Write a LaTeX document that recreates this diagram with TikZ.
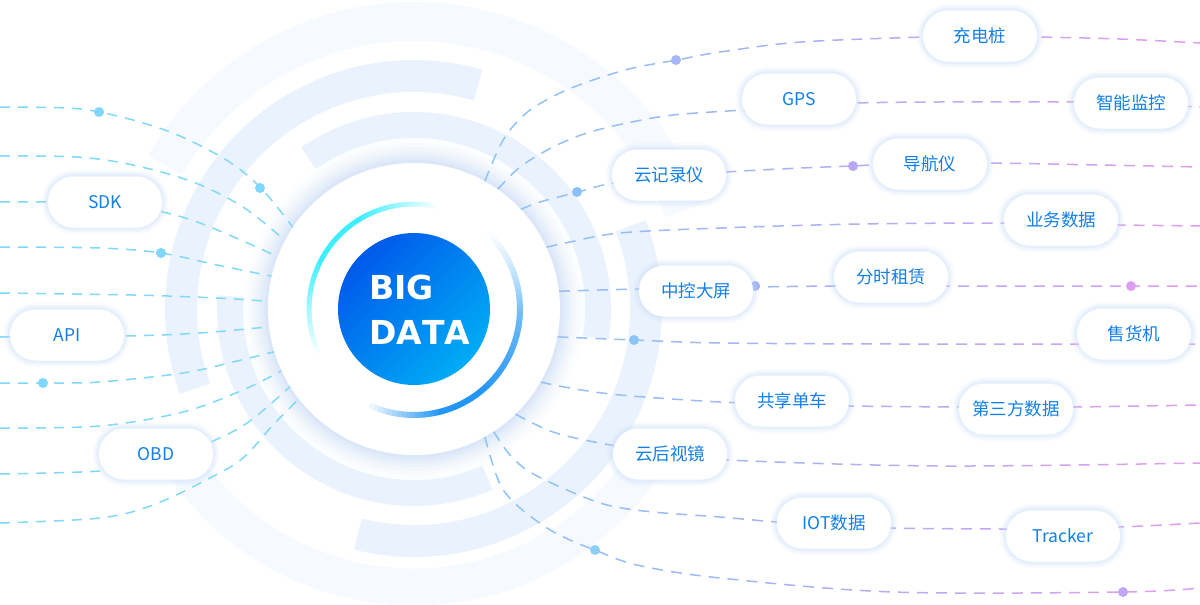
\documentclass[tikz,border=0pt]{standalone}
\usepackage{fontspec}
\newfontfamily\cjkf{Noto Sans CJK SC}
\newfontfamily\dvs{DejaVu Sans}[Kerning=Off]
\usetikzlibrary{calc}
\definecolor{bandc}{RGB}{234,243,253}
\definecolor{faintc}{RGB}{246,250,255}
\definecolor{glowc}{RGB}{190,212,248}
\definecolor{pillglow}{RGB}{200,220,250}
\definecolor{lline}{RGB}{128,216,250}
\definecolor{ldotc}{RGB}{128,214,250}
\definecolor{rc1}{RGB}{140,198,248}
\definecolor{rc2}{RGB}{168,178,245}
\definecolor{rc3}{RGB}{228,156,240}
\definecolor{txtc}{RGB}{18,128,232}
\definecolor{cyanarc}{RGB}{60,238,255}
\definecolor{rbDeep}{RGB}{35,150,245}
\definecolor{rbLight}{RGB}{175,218,250}
\definecolor{cA}{RGB}{0,90,235}
\definecolor{cB}{RGB}{0,172,245}
\definecolor{d1}{RGB}{166,182,246}
\definecolor{d2}{RGB}{140,192,249}
\definecolor{d3}{RGB}{184,166,242}
\definecolor{d4}{RGB}{160,176,246}
\definecolor{d5}{RGB}{220,158,240}
\definecolor{d6}{RGB}{140,196,248}
\definecolor{d7}{RGB}{140,207,248}
\definecolor{d8}{RGB}{192,166,244}
\tikzset{
  pill/.style={rectangle, rounded corners=25.5pt, minimum width=114pt, minimum height=51pt,
    fill=white, inner sep=0pt, text=txtc, font=\cjkf\fontsize{17.5}{20}\selectfont,
    preaction={draw=pillglow, line width=13pt, draw opacity=0.10},
    preaction={draw=pillglow, line width=9pt, draw opacity=0.15},
    preaction={draw=pillglow, line width=5pt, draw opacity=0.25}},
  band/.style={draw=bandc},
  faint/.style={draw=faintc},
  lln/.style={draw=lline, line width=1.5pt, dash pattern=on 10pt off 8pt},
  rln/.style={draw=rl, line width=1.5pt, dash pattern=on 11pt off 8pt},
  bigtxt/.style={text=white, font=\dvs\bfseries\fontsize{33}{40}\selectfont, inner sep=0pt, anchor=base west}
}
\newcommand\rlines{%
  \draw[rln] plot[smooth, tension=0.55] coordinates {(disk.61) (498,150) (510,130) (530,110) (560,93) (593,80) (633,68) (677,60) (720,52) (801,42) (924,37) (980,36) (1038,37) (1120,39) (1200,43)};
  \draw[rln] plot[smooth, tension=0.55] coordinates {(disk.55) (520,167) (553,147) (587,133) (627,123) (673,115) (743,110) (800,106) (856,103) (939,102) (1074,102) (1131,104) (1200,107)};
  \draw[rln] plot[smooth, tension=0.55] coordinates {(disk.43) (540,202) (578,192) (613,183) (669,177) (726,172) (801,168) (853,166) (873,165) (930,164) (987,163) (1100,165) (1200,167)};
  \draw[rln] plot[smooth, tension=0.55] coordinates {(disk.25) (570,242) (620,233) (720,228) (860,224) (1005,223) (1061,224) (1119,225) (1200,226)};
  \draw[rln] plot[smooth, tension=0.55] coordinates {(disk.7) (638,289) (696,288) (754,287) (834,286) (891,286) (948,286) (1131,286) (1200,286)};
  \draw[rln] plot[smooth, tension=0.55] coordinates {(disk.-11.4) (634,340) (720,343) (900,344) (1077,344) (1134,344) (1200,344)};
  \draw[rln] plot[smooth, tension=0.55] coordinates {(disk.-30) (570,388) (620,395) (720,402) (792,404) (850,406) (960,407) (1016,407) (1074,407) (1200,405)};
  \draw[rln] plot[smooth, tension=0.55] coordinates {(disk.-46.6) (553,432) (605,444) (670,453) (728,460) (939,466) (1200,463)};
  \draw[rln] plot[smooth, tension=0.55] coordinates {(disk.-57.5) (510,455) (530,472) (567,490) (607,505) (653,512) (720,517) (777,522) (834,525) (891,528) (1006,529) (1063,528) (1120,527) (1200,523)};
  \draw[rln] plot[smooth, tension=0.55] coordinates {(disk.-61.5) (492,462) (502,488) (520,508) (547,528) (570,540) (595,550) (637,565) (720,578) (893,592) (1123,592) (1200,588)};
}
\begin{document}
\begin{tikzpicture}[x=1pt,y=-1pt]
\useasboundingbox (0,0) rectangle (1200,605);
\clip (0,0) rectangle (1200,605);
\fill[white] (0,0) rectangle (1200,605);
% reference node for the central disk
\node[circle, minimum size=292pt, inner sep=0pt, outer sep=0pt] (disk) at (414,309) {};
% faint outer rings
\draw[faint, line width=39pt] (disk.center) ++(20:287.5pt) arc[start angle=20, end angle=150, radius=287.5pt];
\draw[faint, line width=37pt] (disk.center) ++(214:278pt) arc[start angle=214, end angle=330, radius=278pt];
% light bands
\draw[band, line width=32pt] (disk.center) ++(74:233pt) arc[start angle=74, end angle=200, radius=233pt];
\draw[band, line width=26pt] (disk.center) ++(-9:184pt) arc[start angle=-9, end angle=125, radius=184pt];
\draw[band, line width=32pt] (disk.center) ++(-104:232pt) arc[start angle=-104, end angle=21, radius=232pt];
\draw[band, line width=26pt] (disk.center) ++(176:184pt) arc[start angle=176, end angle=293.5, radius=184pt];
% glow of the disk
\foreach \r/\o in {170/0.04,166/0.06,162/0.08,158/0.10,155/0.12,152/0.14,149/0.16} {
  \fill[glowc, opacity=\o] (disk.center) circle (\r pt);
}
% left lines
\draw[lln] plot[smooth, tension=0.55] coordinates {(0,107) (67,108) (99,112) (140,122) (180,136) (228,161) (261,188) (disk.146)};
\draw[lln] plot[smooth, tension=0.55] coordinates {(0,156) (77,157) (133,165) (193,182) (243,207) (disk.152)};
\draw[lln] plot[smooth, tension=0.55] coordinates {(0,202) (110,203) (163,212) (200,223) (243,241) (disk.159)};
\draw[lln] plot[smooth, tension=0.55] coordinates {(0,247) (100,248) (161,253) (217,265) (disk.167)};
\draw[lln] plot[smooth, tension=0.55] coordinates {(0,293) (133,295) (217,298) (disk.177)};
\draw[lln] plot[smooth, tension=0.55] coordinates {(0,337) (125,336) (200,333) (disk.187)};
\draw[lln] plot[smooth, tension=0.55] coordinates {(0,383) (43,383) (100,382) (183,373) (233,362) (disk.197)};
\draw[lln] plot[smooth, tension=0.55] coordinates {(0,428) (100,426) (183,412) (243,390) (disk.205)};
\draw[lln] plot[smooth, tension=0.55] coordinates {(0,474) (100,471) (156,462) (213,441) (250,421) (disk.212)};
\draw[lln] plot[smooth, tension=0.55] coordinates {(0,523) (100,518) (153,505) (210,478) (243,458) (273,425) (disk.218)};
% right lines, coloured in vertical strips (blue -> violet -> pink)
\foreach \k in {0,...,23} {
  \pgfmathsetmacro\xa{466+\k*32}
  \pgfmathsetmacro\xb{\xa+32.6}
  \pgfmathsetmacro\pa{max(0,min(100,(\xa+16-480)/3.2))}
  \pgfmathsetmacro\pb{max(0,min(100,(\xa+16-800)/4))}
  \begin{scope}
    \clip (\xa,0) rectangle (\xb,605);
    \colorlet{rtmp}{rc2!\pa!rc1}
    \colorlet{rl}{rc3!\pb!rtmp}
    \rlines
  \end{scope}
}
% white disk
\fill[white] (disk.center) circle (146pt);
% gradient arcs
\foreach \a in {75,77.5,...,202.5} {
  \pgfmathsetmacro\p{max(0,min(100,(\a-75)/0.45,(205-\a)/0.55))}
  \draw[cyanarc!\p!white, line width=5pt] (disk.center) ++(\a:105pt) arc[start angle=\a, end angle=\a+2.7, radius=105pt];
}
\foreach \a in {48,45.5,...,-112.5} {
  \pgfmathsetmacro\p{max(0,min(100,(48-\a)/0.5,(\a+115)/0.4))}
  \pgfmathsetmacro\q{max(0,min(100,(40-\a)/0.9))}
  \draw[rbDeep!\q!rbLight!\p!white, line width=6pt] (disk.center) ++(\a:106pt) arc[start angle=\a, end angle=\a-2.7, radius=106pt];
}
% central circle
\shade[top color=cA, bottom color=cB, shading angle=45] (disk.center) circle (76pt);
\node[bigtxt] (bigt) at (369,299) {BIG};
\node[bigtxt] (datat) at (369,344) {DATA};
% dots
\foreach \x/\y in {99/112,260/188,161/253,43/383} { \fill[ldotc] (\x,\y) circle (5pt); }
\fill[d1] (676,60) circle (5pt);
\fill[d2] (577,192) circle (5pt);
\fill[d3] (853,166) circle (5pt);
\fill[d4] (755,286) circle (5pt);
\fill[d5] (1131,286) circle (5pt);
\fill[d6] (634,340) circle (5pt);
\fill[d7] (595,550) circle (5pt);
\fill[d8] (1123,592) circle (5pt);
% pills
\node[pill] (cdz) at (980,36) {充电桩};
\node[pill] (gps) at (799,99) {GPS};
\node[pill] (znjk) at (1131,103) {智能监控};
\node[pill] (yjly) at (669,175) {云记录仪};
\node[pill] (dhy) at (930,164) {导航仪};
\node[pill] (ywsj) at (1061,220) {业务数据};
\node[pill] (zkdp) at (696,291) {中控大屏};
\node[pill] (fszl) at (891,277) {分时租赁};
\node[pill] (shj) at (1134,334) {售货机};
\node[pill] (gxdc) at (792,401) {共享单车};
\node[pill] (dsfsj) at (1016,409) {第三方数据};
\node[pill] (yhsj) at (670,454) {云后视镜};
\node[pill] (iot) at (834,523) {IOT数据};
\node[pill] (trk) at (1063,536) {Tracker};
\node[pill] (sdk) at (105,202) {SDK};
\node[pill] (api) at (67,335) {API};
\node[pill] (obd) at (156,454) {OBD};
\end{tikzpicture}
\end{document}
